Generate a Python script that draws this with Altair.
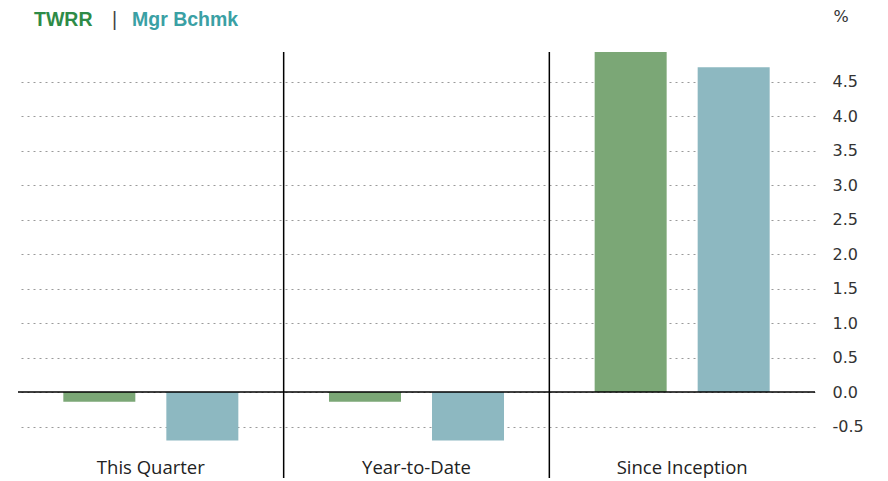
import altair as alt
import pandas as pd

categories = ["This Quarter", "Year-to-Date", "Since Inception"]
series = ["TWRR", "Mgr Bchmk"]
twrr = [-0.14, -0.14, 4.93]
bchmk = [-0.70, -0.70, 4.71]
tick_values = [-0.5, 0.0, 0.5, 1.0, 1.5, 2.0, 2.5, 3.0, 3.5, 4.0, 4.5]
bar_colors = ["#7ba776", "#8db8c1"]
legend_colors = ["#2e8b47", "#3aa0a4"]

rows = []
for i, c in enumerate(categories):
    rows.append({"cat": c, "series": series[0], "value": twrr[i]})
    rows.append({"cat": c, "series": series[1], "value": bchmk[i]})
df = pd.DataFrame(rows)

W, H = 797, 396
FONT = "Open Sans"
LEG_FONT = "Liberation Sans"

xscale = alt.Scale(domain=categories, paddingInner=0, paddingOuter=0)
yscale = alt.Scale(domain=[-0.81, 4.93], nice=False, zero=False)

xaxis = alt.Axis(title=None, domain=False, ticks=False, tickSize=0,
                 labelPadding=10, labelFont=FONT, labelFontSize=18.5,
                 labelColor="#222222", labelAngle=0, grid=False)
yaxis = alt.Axis(orient="right", values=tick_values, domain=False, ticks=False,
                 tickSize=0, labelPadding=17, labelAlign="left",
                 labelFont="DejaVu Sans", labelFontSize=16, labelColor="#333333",
                 labelExpr="datum.value < 0 ? '-' + format(-datum.value, '.1f') : format(datum.value, '.1f')",
                 grid=True, gridDash=[2, 4], gridColor="#9a9a9a", gridWidth=1,
                 title="%", titleAngle=0, titleX=18, titleY=-36, titleAlign="left",
                 titleBaseline="middle", titleFont="DejaVu Sans", titleFontSize=16,
                 titleFontWeight="normal", titleColor="#333333")

bars = alt.Chart(df).mark_bar().encode(
    x=alt.X("cat:N", sort=categories, scale=xscale, axis=xaxis),
    xOffset=alt.XOffset("series:N", sort=series,
                        scale=alt.Scale(domain=series, paddingInner=0.301, paddingOuter=0.44)),
    y=alt.Y("value:Q", stack=None, scale=yscale, axis=yaxis),
    color=alt.Color("series:N", sort=series,
                    scale=alt.Scale(domain=series, range=bar_colors), legend=None),
)

zero_df = pd.DataFrame({"value": [0.0]})
zero_rule = alt.Chart(zero_df).mark_rule(color="#000000", strokeWidth=1.5).encode(
    y=alt.Y("value:Q", scale=yscale, axis=yaxis),
    x=alt.value(0), x2=alt.value(W),
)

div_df = pd.DataFrame({"cat": categories[1:]})
dividers = alt.Chart(div_df).mark_rule(color="#000000", strokeWidth=1.5).encode(
    x=alt.X("cat:N", sort=categories, scale=xscale, bandPosition=0, axis=xaxis),
    y=alt.value(0), y2=alt.value(H + 30),
)

def legend_text(label, color, xpos, bold=True):
    return alt.Chart(pd.DataFrame({"t": [label]})).mark_text(
        align="left", baseline="middle", font=LEG_FONT, fontSize=19.5,
        fontWeight="bold" if bold else "normal", color=color,
    ).encode(text="t:N", x=alt.value(xpos), y=alt.value(-32))

leg1 = legend_text(series[0], legend_colors[0], 16)
sep = legend_text("|", "#444444", 94, bold=False)
leg2 = legend_text(series[1], legend_colors[1], 114)

chart = alt.layer(bars, zero_rule, dividers, leg1, sep, leg2).properties(
    width=W, height=H, autosize="none",
    padding={"left": 10, "top": 44, "right": 60, "bottom": 30},
).configure_view(stroke=None)

chart.save("out.html", embed_options={"renderer": "svg", "actions": False})
